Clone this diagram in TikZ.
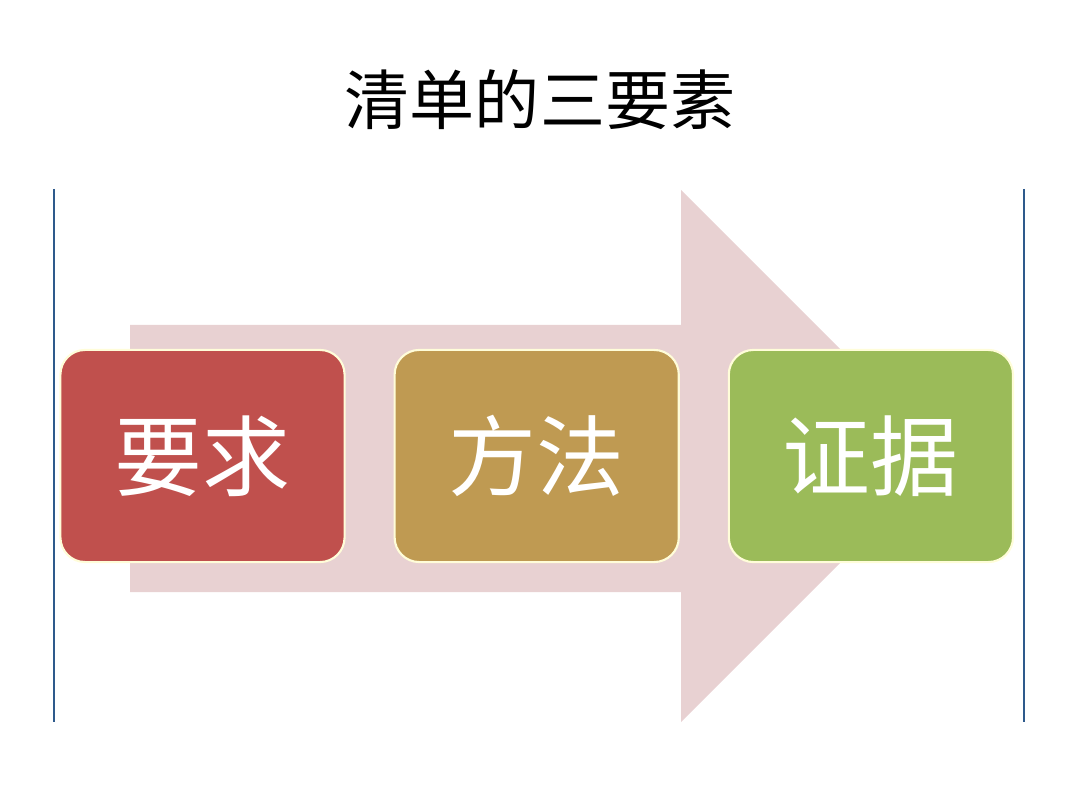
\documentclass[tikz,border=0pt]{standalone}
\usepackage{fontspec}
\newfontfamily\cjk{Noto Sans CJK SC}
\usetikzlibrary{positioning}

\definecolor{stepred}{HTML}{C0504D}
\definecolor{stepgold}{HTML}{BF9A52}
\definecolor{stepgreen}{HTML}{9BBB59}
\definecolor{arrowpink}{HTML}{E8D1D2}
\definecolor{framblue}{HTML}{2E5A8C}

\begin{document}
\begin{tikzpicture}[
    x=0.01cm, y=-0.01cm,
    node distance=0.5cm,
    every node/.style={font=\cjk},
    stepbox/.style={rectangle, draw=white!85!yellow, line width=0.6pt, rounded corners=7pt,
        outer sep=0pt, minimum width=2.84cm, minimum height=2.12cm, text=white,
        font=\cjk\fontsize{25}{30}\selectfont},
    frameline/.style={framblue, line width=0.8pt},
    title/.style={font=\cjk\fontsize{18.5}{22}\selectfont}
]
\useasboundingbox (0,0) rectangle (1080,810);

% ============ TITLE ============
\node[title] (title) at (540,100) {清单的三要素};

% ============ FRAME LINES ============
\draw[frameline] (54,189) -- (54,722);
\draw[frameline] (1024,189) -- (1024,722);

% ============ BIG ARROW ============
\fill[arrowpink] (130,325) -- (681,325) -- (681,190) -- (947,456)
    -- (681,722) -- (681,592) -- (130,592) -- cycle;

% ============ THREE ELEMENTS ============
\node[stepbox, fill=stepred] (require) at (202.5,456) {要求};
\node[stepbox, fill=stepgold, right=of require] (method) {方法};
\node[stepbox, fill=stepgreen, right=of method] (evidence) {证据};

\end{tikzpicture}
\end{document}
